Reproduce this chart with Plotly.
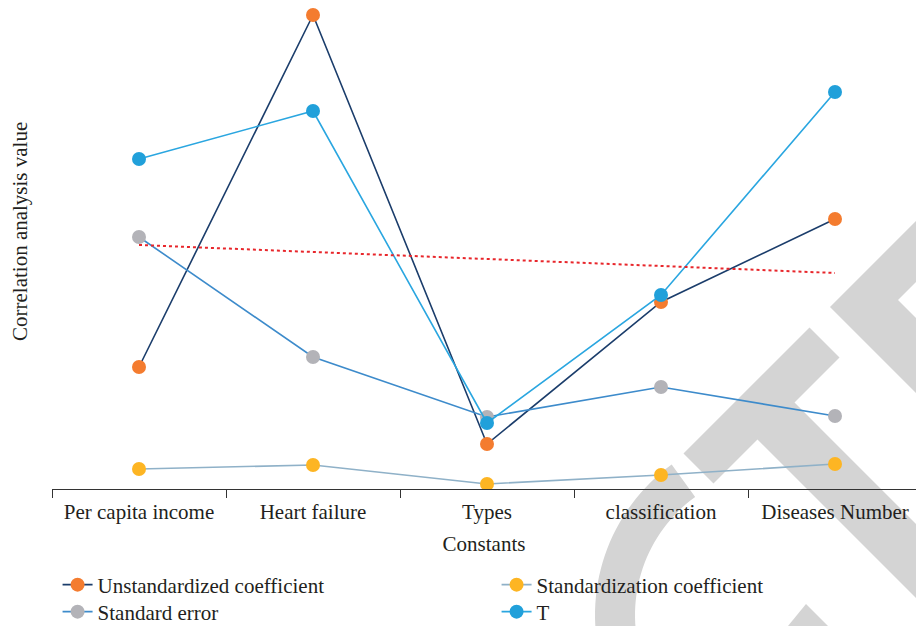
import numpy as np
import plotly.graph_objects as go

categories = ["Per capita income", "Heart failure", "Types", "classification", "Diseases Number"]
unstandardized = [1.22, 4.74, 0.45, 1.87, 2.70]
standardization = [0.20, 0.24, 0.05, 0.14, 0.25]
standard_error = [2.52, 1.32, 0.72, 1.02, 0.73]
t_values = [3.30, 3.78, 0.66, 1.94, 3.97]
trend_x = [categories[0], categories[-1]]
trend_y = [2.44, 2.16]

W, H = 916, 626
L, R, T, B = 52, 0, 0, 137
pw, ph = W - L - R, H - T - B

def px(x):
    return (x - L) / pw

def py(y):
    return (H - B - y) / ph

def path(points):
    return "M " + " L ".join(f"{px(x):.5f},{py(y):.5f}" for x, y in points) + " Z"

# watermark geometry (decorative)
wm = "#D4D4D4"
t_shape = [(809.5, 327.5), (839.5, 357.5), (794.5, 402.5), (1092, 700), (1018, 700),
           (757.5, 439.5), (713.5, 483.5), (683.5, 453.5)]
chev = [(916, 221), (830, 307), (916, 393), (916, 318), (898, 300), (916, 282)]
cx, cy, Ro, Ri = 781, 615, 186, 146
a_end = np.deg2rad(126)
angs = np.linspace(a_end, np.deg2rad(300), 80)
outer = [(cx + Ro * np.cos(a), cy - Ro * np.sin(a)) for a in angs]
inner = [(cx + Ri * np.cos(a), cy - Ri * np.sin(a)) for a in angs[::-1]]
c_shape = outer + inner
tip = [(788, 626), (806, 604), (828, 626)]

shapes = []
for poly in (t_shape, chev, c_shape, tip):
    shapes.append(dict(type="path", xref="paper", yref="paper", path=path(poly),
                       fillcolor=wm, line=dict(width=0), layer="below"))

fs = 21
fig = go.Figure()
fig.add_trace(go.Scatter(x=categories, y=unstandardized, mode="lines+markers",
                         name="Unstandardized coefficient", legend="legend",
                         line=dict(color="#1B3D6B", width=1.6),
                         marker=dict(color="#F47C2F", size=14)))
fig.add_trace(go.Scatter(x=categories, y=standardization, mode="lines+markers",
                         name="Standardization coefficient", legend="legend",
                         line=dict(color="#8FB1C8", width=1.6),
                         marker=dict(color="#FDB523", size=14)))
fig.add_trace(go.Scatter(x=categories, y=standard_error, mode="lines+markers",
                         name="Standard error", legend="legend2",
                         line=dict(color="#3D8BCB", width=1.6),
                         marker=dict(color="#B3B3B8", size=14)))
fig.add_trace(go.Scatter(x=categories, y=t_values, mode="lines+markers",
                         name="T", legend="legend2",
                         line=dict(color="#2AA6E0", width=1.6),
                         marker=dict(color="#21A0DA", size=14)))
fig.add_trace(go.Scatter(x=trend_x, y=trend_y, mode="lines", showlegend=False,
                         line=dict(color="#E8262B", width=2, dash="dot"),
                         hoverinfo="skip"))

font_family = "Liberation Serif"
leg_common = dict(orientation="h", xanchor="left", yanchor="middle",
                  xref="paper", yref="paper", x=-0.0005, indentation=6,
                  entrywidth=388, entrywidthmode="pixels",
                  font=dict(size=fs), bgcolor="rgba(0,0,0,0)")
fig.update_layout(
    width=W, height=H,
    margin=dict(l=L, r=R, t=T, b=B, autoexpand=False),
    paper_bgcolor="white", plot_bgcolor="rgba(0,0,0,0)",
    font=dict(family=font_family, size=fs, color="#231F20"),
    shapes=shapes,
    xaxis=dict(type="category", range=[-0.5, 4.5 - 6 / 174], tickson="boundaries",
               ticks="outside", ticklen=8, tickwidth=1.3, tickcolor="#333333",
               showline=True, linecolor="#333333", linewidth=1.3,
               showgrid=False, zeroline=False, automargin=False,
               tickfont=dict(size=fs), ticklabelstandoff=4,
               title=dict(text="Constants", font=dict(size=fs), standoff=12)),
    yaxis=dict(range=[0, 4.89], showticklabels=False, ticks="", showgrid=False,
               zeroline=False, showline=False, automargin=False),
    showlegend=True,
    legend=dict(y=py(585), **leg_common),
    legend2=dict(y=py(612), **leg_common),
    annotations=[dict(text="Correlation analysis value", textangle=-90,
                      xref="paper", yref="paper", x=px(20), y=py(232),
                      xanchor="center", yanchor="middle", showarrow=False,
                      font=dict(size=fs))],
)

fig.write_html("out.html", config={"displayModeBar": False},
               post_script="document.body.style.margin='0';")
